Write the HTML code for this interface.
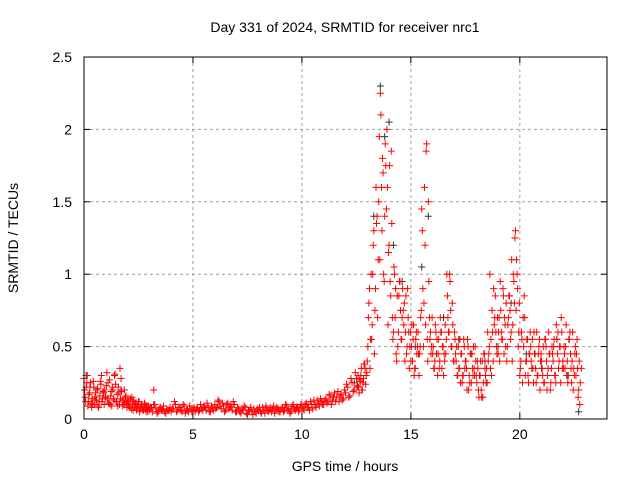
<!DOCTYPE html>
<html><head><meta charset="utf-8"><style>
body{margin:0;background:#fff;}
svg text{font-family:"Liberation Sans",sans-serif;font-size:14px;fill:#000;}
</style></head><body>
<svg id="chart" width="640" height="480" xmlns="http://www.w3.org/2000/svg">
<rect width="640" height="480" fill="#fff"/>
<g id="grid"></g>
<g id="marks"></g>
<rect x="84" y="57" width="523" height="362" fill="none" stroke="#000" stroke-width="1"/>
<g id="axes"></g>
<text x="345" y="32" text-anchor="middle">Day 331 of 2024, SRMTID for receiver nrc1</text>
<text x="345" y="471" text-anchor="middle">GPS time / hours</text>
<text x="18" y="238" text-anchor="middle" transform="rotate(-90 18 238)">SRMTID / TECUs</text>
</svg>
<script>
const xTicks=[0,5,10,15,20];
const yTicks=[0,0.5,1,1.5,2,2.5];
const yTickLabels=["0","0.5","1","1.5","2","2.5"];
const redStart=0, redStep=0.1;
const redValues=[0.28,0.22,0.12,0.25,0.10,0.15,0.20,0.12,0.30,0.18,
0.15,0.25,0.10,0.22,0.30,0.12,0.18,0.28,0.10,0.15,
0.12,0.08,0.15,0.10,0.07,0.12,0.08,0.06,0.10,0.07,
0.06,0.08,0.20,0.07,0.05,0.08,0.06,0.05,0.07,0.06,
0.05,0.07,0.10,0.06,0.08,0.05,0.09,0.06,0.05,0.07,
0.06,0.05,0.08,0.06,0.07,0.09,0.06,0.08,0.05,0.07,
0.10,0.08,0.12,0.07,0.09,0.06,0.11,0.08,0.06,0.10,
0.05,0.07,0.04,0.06,0.08,0.03,0.06,0.05,0.07,0.04,
0.06,0.05,0.08,0.04,0.07,0.06,0.05,0.09,0.06,0.07,
0.05,0.08,0.06,0.09,0.07,0.05,0.10,0.06,0.08,0.07,
0.09,0.06,0.11,0.08,0.12,0.07,0.10,0.13,0.09,0.12,
0.10,0.14,0.12,0.16,0.13,0.18,0.15,0.12,0.17,0.14,
0.18,0.22,0.16,0.25,0.20,0.28,0.22,0.30,0.25,0.35,
0.40,0.90,0.55,1.30,1.60,1.10,2.25,1.80,1.40,2.00,
1.20,1.85,0.60,0.90,0.50,0.95,0.70,0.80,0.45,0.60,
0.40,0.55,0.35,0.50,0.45,1.45,0.80,1.85,1.50,0.60,
0.45,0.40,0.55,0.35,0.60,0.30,0.45,0.70,0.95,0.80,
0.60,0.50,0.35,0.45,0.30,0.40,0.55,0.25,0.45,0.35,
0.30,0.20,0.40,0.15,0.35,0.25,0.50,0.30,0.90,0.60,
0.45,0.95,0.55,0.70,0.40,0.85,0.60,1.00,1.30,0.90,
0.30,0.55,0.85,0.40,0.25,0.50,0.35,0.45,0.30,0.55,
0.40,0.25,0.50,0.35,0.20,0.45,0.30,0.55,0.40,0.70,
0.35,0.50,0.25,0.60,0.40,0.30,0.45,0.20];
const red2Start=0.05, red2Step=0.1;
const red2Values=[0.15,0.30,0.18,0.08,0.22,0.13,0.09,0.26,0.14,0.20,
0.32,0.11,0.19,0.14,0.24,0.09,0.35,0.13,0.20,0.11,
0.09,0.13,0.06,0.11,0.09,0.05,0.10,0.08,0.05,0.09,
0.08,0.05,0.10,0.04,0.07,0.06,0.09,0.04,0.06,0.08,
0.07,0.12,0.05,0.08,0.06,0.10,0.04,0.07,0.09,0.05,
0.08,0.07,0.05,0.10,0.06,0.08,0.11,0.05,0.09,0.06,
0.07,0.13,0.09,0.11,0.05,0.10,0.07,0.09,0.12,0.05,
0.08,0.05,0.07,0.09,0.04,0.06,0.08,0.03,0.05,0.07,
0.08,0.04,0.06,0.09,0.05,0.08,0.07,0.04,0.08,0.05,
0.07,0.05,0.10,0.06,0.04,0.09,0.07,0.08,0.05,0.10,
0.07,0.10,0.08,0.06,0.10,0.13,0.08,0.11,0.14,0.10,
0.13,0.11,0.17,0.10,0.15,0.12,0.19,0.16,0.13,0.20,
0.24,0.15,0.28,0.19,0.32,0.23,0.27,0.20,0.38,0.30,
0.70,0.55,1.00,0.75,1.40,1.95,1.60,1.00,1.75,0.65,
0.95,0.70,1.00,0.40,0.85,0.55,0.75,0.60,0.90,0.50,
0.65,0.30,0.60,0.45,0.70,0.90,1.20,0.55,0.70,0.50,
0.35,0.60,0.45,0.70,0.50,0.40,1.00,0.60,0.50,0.40,
0.45,0.30,0.55,0.25,0.50,0.35,0.20,0.45,0.30,0.50,
0.40,0.30,0.15,0.45,0.25,0.40,0.35,0.60,0.70,0.45,
0.70,0.60,0.85,0.50,0.65,0.75,0.40,0.80,1.10,0.60,
0.40,0.70,0.30,0.55,0.45,0.35,0.60,0.25,0.45,0.40,
0.30,0.55,0.20,0.45,0.35,0.50,0.25,0.60,0.50,0.35,
0.45,0.30,0.55,0.35,0.20,0.50,0.35,0.10];
const red3Start=12.525, red3Step=0.05;
const red3Values=[0.22,0.30,0.18,0.26,0.35,0.20,0.28,0.38,0.24,0.32,
0.50,0.80,0.35,1.00,0.65,1.20,0.45,0.90,1.35,0.70,
1.50,1.10,2.10,1.30,1.70,0.95,1.90,1.45,1.60,1.15,
1.75,0.85,1.35,0.55,1.05,0.70,0.45,0.85,0.60,0.95,
0.75,0.55,0.90,0.65,0.40,0.85,0.50,0.70,0.35,0.60,
0.50,0.40,0.65,0.35,0.55,0.45,0.60,0.30,0.50,0.75,
1.30,0.50,1.60,0.65,1.90,0.40,0.95,0.55,0.45,0.70,
0.50,0.35,0.65,0.45,0.30,0.55,0.40,0.60,0.35,0.50,
0.45,0.65,0.55,0.85,0.60,1.00,0.75,0.50,0.65,0.40,
0.55,0.40,0.30,0.50,0.35,0.25,0.45,0.30,0.55,0.35,
0.40,0.20,0.50,0.30,0.45,0.25,0.35,0.50,0.30,0.40,
0.25,0.35,0.15,0.30,0.20,0.40,0.25,0.45,0.30,0.35,
0.60,0.45,1.00,0.55,0.75,0.40,0.65,0.85,0.50,0.70,
0.60,0.40,0.75,0.55,0.90,0.45,0.65,0.80,0.50,0.70,
0.85,0.55,1.10,0.65,0.95,1.25,0.75,1.00,0.50,0.80,
0.35,0.60,0.25,0.50,0.70,0.40,0.55,0.30,0.45,0.60,
0.40,0.55,0.25,0.45,0.35,0.60,0.30,0.50,0.20,0.45,
0.35,0.50,0.25,0.55,0.40,0.30,0.60,0.45,0.25,0.50,
0.40,0.55,0.30,0.65,0.45,0.35,0.50,0.25,0.60,0.40,
0.50,0.35,0.65,0.40,0.30,0.55,0.45,0.25,0.60,0.35,
0.45,0.30,0.55,0.15,0.40,0.25,0.35];
const red4Start=0.025, red4Step=0.05;
const red4Values=[0.20,0.12,0.25,0.09,0.17,0.22,0.11,0.14,0.26,0.10,
0.18,0.13,0.21,0.08,0.16,0.24,0.12,0.19,0.10,0.15,
0.23,0.14,0.11,0.27,0.16,0.09,0.20,0.13,0.31,0.12,
0.17,0.22,0.10,0.14,0.19,0.09,0.13,0.11,0.16,0.08,
0.12,0.09,0.14,0.07,0.10,0.13,0.08,0.11,0.06,0.09,
0.12,0.07,0.10,0.08,0.06,0.11,0.07,0.09,0.05,0.08];
const blackTimes=[0.1,0.9,1.7,3.2,6.1,9.5,12.4,13.3,13.6,13.8,14.0,14.2,14.6,15.2,15.5,15.8,16.5,17.2,18.4,19.0,19.6,20.3,21.0,21.7,22.2,22.7];
const blackValues=[0.30,0.18,0.20,0.10,0.08,0.07,0.25,1.40,2.30,1.95,2.05,1.20,0.95,0.50,1.05,1.40,0.70,0.55,0.40,0.50,0.80,0.45,0.35,0.55,0.30,0.05];

const L=84,R=607,T=57,B=419;
const xScale=v=>L+(v/24)*(R-L);
const yScale=v=>B-(v/2.5)*(B-T);
const NS="http://www.w3.org/2000/svg";
const grid=document.getElementById('grid'),axes=document.getElementById('axes'),marks=document.getElementById('marks');
function mk(tag,attrs,parent){const e=document.createElementNS(NS,tag);for(const k in attrs)e.setAttribute(k,attrs[k]);parent.appendChild(e);return e;}
xTicks.forEach((t,i)=>{const x=xScale(t);
 if(i>0){const g=mk('line',{x1:x,x2:x,y1:T,y2:B,stroke:'#a0a0a0','stroke-dasharray':'3,3'},grid);
 
 }
 mk('line',{x1:x,x2:x,y1:B,y2:B-6,stroke:'#000'},axes);mk('line',{x1:x,x2:x,y1:T,y2:T+6,stroke:'#000'},axes);
 const tx=mk('text',{x:x,y:B+20,'text-anchor':'middle'},axes);tx.textContent=String(t);
 
 });
yTicks.forEach((t,i)=>{const y=yScale(t);
 if(i>0&&i<yTicks.length-1){const g=mk('line',{x1:L,x2:R,y1:y,y2:y,stroke:'#a0a0a0','stroke-dasharray':'3,3'},grid);
 
 }
 mk('line',{x1:L,x2:L+6,y1:y,y2:y,stroke:'#000'},axes);mk('line',{x1:R,x2:R-6,y1:y,y2:y,stroke:'#000'},axes);
 const tx=mk('text',{x:L-12,y:y+5,'text-anchor':'end'},axes);tx.textContent=yTickLabels[i];
 
 });
function plus(t,v,color,name){const x=xScale(t),y=yScale(v);
 const p=mk('path',{d:`M${x-3.5},${y}h7M${x},${y-3.5}v7`,stroke:color,'stroke-width':1,fill:'none'},marks);
 
 }
blackValues.forEach((v,i)=>plus(blackTimes[i],v,'#333','black-point'));
redValues.forEach((v,i)=>plus(redStart+i*redStep,v,'#f00','red-point'));
red2Values.forEach((v,i)=>plus(red2Start+i*red2Step,v,'#f00','red-point'));
red3Values.forEach((v,i)=>plus(red3Start+i*red3Step,v,'#f00','red-point'));
red4Values.forEach((v,i)=>plus(red4Start+i*red4Step,v,'#f00','red-point'));
</script>
</body></html>
